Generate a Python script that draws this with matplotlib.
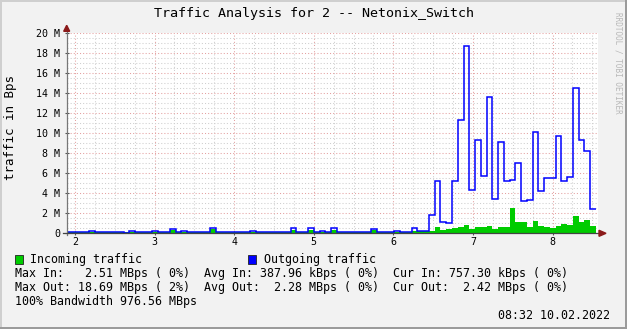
"""
Traffic graph (rrdtool look) for port 2 of the Netonix switch
"""
import numpy as np
import matplotlib as mpl
mpl.use('Agg')
import matplotlib.pyplot as plt
from matplotlib.patches import Rectangle, Polygon
from matplotlib.ticker import MultipleLocator, FuncFormatter

# ---- data (MBps per sample, x axis in hours) ----
t_start = 1.888      # first sample edge
t_step = 0.07236     # sample width
out_mbps = [
    0.13, 0.13, 0.13, 0.13, 0.27, 0.13, 0.13, 0.13, 0.13, 0.13,
    0.05, 0.27, 0.13, 0.13, 0.13, 0.27, 0.13, 0.13, 0.40, 0.13,
    0.27, 0.13, 0.13, 0.13, 0.13, 0.50, 0.13, 0.13, 0.13, 0.13,
    0.13, 0.13, 0.27, 0.13, 0.13, 0.13, 0.13, 0.13, 0.13, 0.57,
    0.13, 0.13, 0.57, 0.13, 0.27, 0.13, 0.57, 0.13, 0.13, 0.13,
    0.13, 0.13, 0.13, 0.47, 0.13, 0.13, 0.13, 0.27, 0.17, 0.17,
    0.57, 0.27, 0.27, 1.80, 5.27, 1.17, 1.00, 5.27, 11.30, 18.69,
    4.37, 9.30, 5.70, 13.67, 3.47, 9.17, 5.20, 5.30, 7.07, 3.27,
    3.37, 10.17, 4.27, 5.57, 5.57, 9.77, 5.27, 5.67, 14.57, 9.30,
    8.27, 2.42]
in_mbps = [
    0.12, 0.12, 0.12, 0.12, 0.12, 0.12, 0.12, 0.12, 0.12, 0.12,
    0.12, 0.12, 0.12, 0.12, 0.12, 0.12, 0.12, 0.12, 0.30, 0.12,
    0.12, 0.12, 0.12, 0.12, 0.12, 0.40, 0.12, 0.12, 0.12, 0.12,
    0.12, 0.12, 0.12, 0.12, 0.12, 0.12, 0.12, 0.12, 0.12, 0.35,
    0.12, 0.12, 0.30, 0.12, 0.12, 0.12, 0.30, 0.12, 0.12, 0.12,
    0.12, 0.12, 0.12, 0.30, 0.12, 0.12, 0.12, 0.15, 0.15, 0.15,
    0.20, 0.20, 0.20, 0.25, 0.60, 0.33, 0.43, 0.50, 0.60, 0.80,
    0.40, 0.60, 0.60, 0.70, 0.40, 0.60, 0.60, 2.51, 1.10, 1.10,
    0.60, 1.20, 0.70, 0.60, 0.50, 0.77, 0.90, 0.80, 1.70, 1.10,
    1.30, 0.76]
x_ticks = [2, 3, 4, 5, 6, 7, 8]

title = "Traffic Analysis for 2 -- Netonix_Switch"
legend_lines = [
    "Max In:   2.51 MBps ( 0%)  Avg In: 387.96 kBps ( 0%)  Cur In: 757.30 kBps ( 0%)",
    "Max Out: 18.69 MBps ( 2%)  Avg Out:  2.28 MBps ( 0%)  Cur Out:  2.42 MBps ( 0%)",
    "100% Bandwidth 976.56 MBps",
]
stamp = "08:32 10.02.2022"

W, H = 627, 329
MONO = 'DejaVu Sans Mono'
GREEN = '#00cc00'
BLUE = '#0000ff'
ARROW = '#8b1a1a'


def fx(px):
    return px / W


def fy(py):
    return 1 - py / H


fig = plt.figure(figsize=(W / 100, H / 100), dpi=100, facecolor='#f2f2f2')

# plot area in pixels
x0, x1, ytop, ybot = 66.7, 598.0, 33.3, 233.3
ax = fig.add_axes([fx(x0), fy(ybot), fx(x1 - x0), (ybot - ytop) / H])
ax.set_facecolor('white')

edges = t_start + t_step * np.arange(len(out_mbps) + 1)
ax.stairs(in_mbps, edges, fill=True, color=GREEN, baseline=0, zorder=3)
ax.stairs(out_mbps, edges, baseline=None, color=BLUE, lw=1.1, zorder=4)

ax.set_xlim(2 + (x0 - 75) / 79.6, 2 + (x1 - 75) / 79.6)
ax.set_ylim(0, 20)

ax.xaxis.set_major_locator(MultipleLocator(1))
ax.xaxis.set_minor_locator(MultipleLocator(0.25))
ax.yaxis.set_major_locator(MultipleLocator(2))
ax.yaxis.set_minor_locator(MultipleLocator(0.5))
ax.set_xticks(x_ticks)
ax.yaxis.set_major_formatter(FuncFormatter(lambda v, p: "0" if v == 0 else "%d M" % v))

dots = (0, (1, 2))
ax.grid(which='minor', color='#cfcfcf', lw=0.75, linestyle=dots)
ax.grid(which='major', color='#e4a0a0', lw=0.75, linestyle=dots)
ax.set_axisbelow(True)

ax.tick_params(which='major', direction='inout', length=3, width=0.8,
               color='#555555', labelsize=7.2)
ax.tick_params(which='minor', length=0)
ax.tick_params(axis='x', pad=1.5)
ax.tick_params(axis='y', pad=3)
for lab in ax.get_xticklabels() + ax.get_yticklabels():
    lab.set_family(MONO)

for s in ax.spines.values():
    s.set_visible(False)

# axis lines with arrows
aw, ah = x1 - x0, ybot - ytop
ax.plot([0, 0], [-2 / ah, 1 + 3 / ah], transform=ax.transAxes, color='#777777',
        lw=0.9, clip_on=False, zorder=5)
ax.plot([-4 / aw, 1 + 2 / aw], [0, 0], transform=ax.transAxes, color='#444444',
        lw=0.9, clip_on=False, zorder=5)
ax.add_patch(Polygon([[-3 / aw, 1 + 2 / ah], [3 / aw, 1 + 2 / ah], [0, 1 + 8 / ah]],
                     closed=True, transform=ax.transAxes, color=ARROW,
                     clip_on=False, zorder=6))
ax.add_patch(Polygon([[1 + 1 / aw, -3 / ah], [1 + 1 / aw, 3 / ah], [1 + 8 / aw, 0]],
                     closed=True, transform=ax.transAxes, color=ARROW,
                     clip_on=False, zorder=6))

# texts
fig.text(fx(11), fy(127.5), "traffic in Bps", family=MONO, fontsize=9,
         rotation=90, ha='center', va='center')
fig.text(fx(313.5), fy(13.3), title, family=MONO, fontsize=9.6,
         ha='center', va='center')
fig.text(fx(618), fy(12), "RRDTOOL / TOBI OETIKER", family=MONO, fontsize=5.5,
         color='#b8b8b8', rotation=270, ha='center', va='top')

for (px, col, lab) in [(15, GREEN, "Incoming traffic"), (248, BLUE, "Outgoing traffic")]:
    fig.patches.append(Rectangle((fx(px), fy(264)), fx(8), 9 / H, transform=fig.transFigure,
                                 facecolor=col, edgecolor='#222222', lw=0.6))
    fig.text(fx(px + 15.5), fy(259.3), lab, family=MONO, fontsize=8.4, va='center')

for i, line in enumerate(legend_lines):
    fig.text(fx(15.5), fy(273.3 + 14 * i), line, family=MONO, fontsize=8.4, va='center')
fig.text(fx(610), fy(315.3), stamp, family=MONO, fontsize=8.4, ha='right', va='center')

# rrdtool style shaded border
for (rx, ry, rw, rh, c) in [(0, 0, W, 2, '#cfcfcf'), (0, 0, 2, H, '#cfcfcf'),
                            (W - 2, 0, 2, H, '#9b9b9b'), (0, H - 2, W, 2, '#9b9b9b')]:
    fig.patches.append(Rectangle((fx(rx), fy(ry + rh)), fx(rw), rh / H,
                                 transform=fig.transFigure, color=c, lw=0))

fig.savefig('out.png', dpi=100, facecolor=fig.get_facecolor())
